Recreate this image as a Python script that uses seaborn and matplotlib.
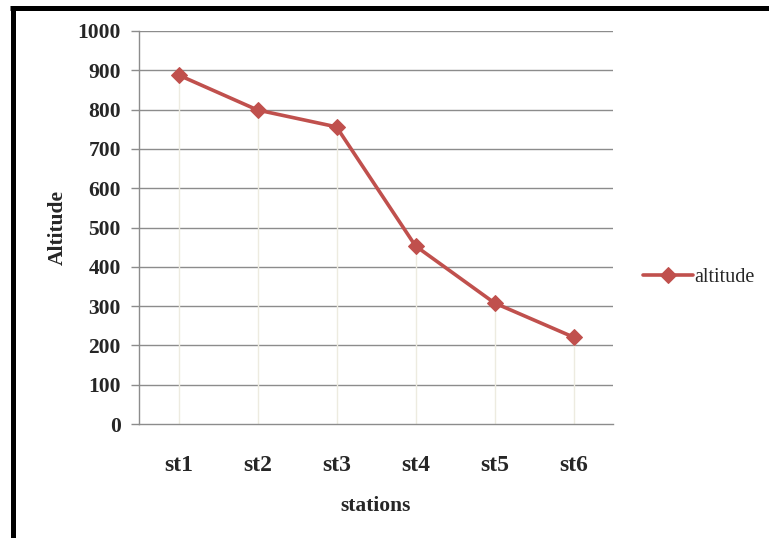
import matplotlib
matplotlib.use("Agg")
import matplotlib.pyplot as plt
import seaborn as sns
import pandas as pd

stations = ["st1", "st2", "st3", "st4", "st5", "st6"]
altitude = [888, 799, 756, 453, 308, 221]
y_ticks = [0, 100, 200, 300, 400, 500, 600, 700, 800, 900, 1000]

df = pd.DataFrame({"stations": stations, "altitude": altitude})

sns.set_theme(style="white")
plt.rcParams["font.family"] = ["Liberation Serif", "DejaVu Serif"]

fig = plt.figure(figsize=(7.69, 5.38), dpi=100)
ax = fig.add_axes([139 / 769, 1 - 424 / 538, 474 / 769, 393 / 538])

red = "#C0504D"

# horizontal gridlines
for t in y_ticks[1:]:
    ax.axhline(t, color="#8C8C8C", lw=1.0, zorder=0)

# faint drop lines from each point to the axis
ax.vlines(range(len(stations)), 0, altitude, color="#EDEBE0", lw=1.0, zorder=1)

sns.lineplot(data=df, x="stations", y="altitude", ax=ax, color=red, lw=2.6,
             marker="D", markersize=8, markeredgecolor=red, markerfacecolor=red,
             label="altitude", sort=False, zorder=3)

ax.set_xlim(-0.5, len(stations) - 0.5)
ax.set_ylim(0, 1000)
ax.set_yticks(y_ticks)
ax.set_yticklabels([str(t) for t in y_ticks], fontsize=15.5, fontweight="bold")
ax.set_xticks(range(len(stations)))
ax.set_xticklabels(stations, fontsize=17, fontweight="bold")
ax.tick_params(axis="x", length=0, pad=22)
ax.tick_params(axis="y", length=6, width=1, color="#8C8C8C", direction="out", pad=7, left=True)

for s in ["top", "right"]:
    ax.spines[s].set_visible(False)
for s in ["left", "bottom"]:
    ax.spines[s].set_color("#8C8C8C")
    ax.spines[s].set_linewidth(1.0)

ax.set_xlabel("stations", fontsize=15.5, fontweight="bold", labelpad=15)
ax.set_ylabel("Altitude", fontsize=15.5, fontweight="bold", labelpad=7)

leg = ax.legend(loc="center left", bbox_to_anchor=(1.025, 0.372), frameon=False,
                fontsize=14.5, handlelength=2.5, handletextpad=0.05)

# black frame on the top and left of the figure
fig.add_artist(plt.Line2D([12.5 / 769, 12.5 / 769], [0, 1 - 6 / 538], color="black", lw=3.6,
                          transform=fig.transFigure, solid_capstyle="butt"))
fig.add_artist(plt.Line2D([10 / 769, 1], [1 - 8 / 538, 1 - 8 / 538], color="black", lw=3.6,
                          transform=fig.transFigure, solid_capstyle="butt"))

fig.savefig("out.png", dpi=100)
